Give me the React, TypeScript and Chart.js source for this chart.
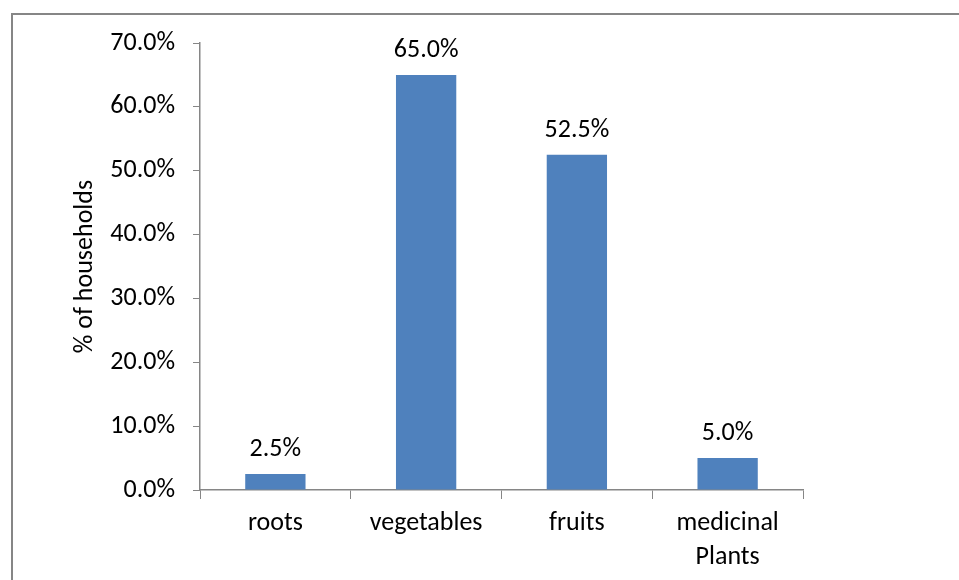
import React, { useEffect, useRef } from "react";
import { Chart, registerables } from "chart.js";

Chart.register(...registerables);

const categories: (string | string[])[] = ["roots", "vegetables", "fruits", ["medicinal", "Plants"]];
const values: number[] = [2.5, 65.0, 52.5, 5.0];
const yTicks: number[] = [0, 10, 20, 30, 40, 50, 60, 70];
const yTitle = "% of households";

const FONT = "Carlito, Lato, sans-serif";
const AXIS = "#868686";
const FS = 26;

const dataLabelPlugin = {
  id: "dataLabels",
  afterDatasetsDraw(chart: any) {
    const ctx = chart.ctx;
    const meta = chart.getDatasetMeta(0);
    ctx.save();
    ctx.font = `${FS}px ${FONT}`;
    ctx.fillStyle = "#000";
    ctx.textAlign = "center";
    ctx.textBaseline = "alphabetic";
    meta.data.forEach((bar: any, i: number) => {
      ctx.fillText(values[i].toFixed(1) + "%", bar.x, bar.y - 18);
    });
    ctx.restore();
  },
};

export default function App() {
  const ref = useRef<HTMLCanvasElement>(null);
  useEffect(() => {
    if (!ref.current) return;
    const chart = new Chart(ref.current, {
      type: "bar",
      data: {
        labels: categories,
        datasets: [
          {
            data: values,
            backgroundColor: "#4F81BD",
            borderWidth: 0,
            categoryPercentage: 1,
            barPercentage: 0.4,
          },
        ],
      },
      options: {
        animation: false,
        responsive: false,
        maintainAspectRatio: false,
        layout: { padding: { left: 0, top: 43, right: 156, bottom: 0 } },
        plugins: { legend: { display: false }, tooltip: { enabled: false } },
        scales: {
          x: {
            grid: { display: true, drawOnChartArea: false, drawTicks: true, tickLength: 9, color: AXIS, offset: true },
            border: { display: true, color: AXIS, width: 1.5 },
            ticks: {
              color: "#000",
              padding: 7,
              maxRotation: 0,
              autoSkip: false,
              font: { family: FONT, size: FS, lineHeight: 1.31 },
            },
            afterFit: (s: any) => {
              s.height = 90;
            },
          },
          y: {
            min: 0,
            max: 70,
            afterBuildTicks: (s: any) => {
              s.ticks = yTicks.map((v) => ({ value: v }));
            },
            grid: { display: true, drawOnChartArea: false, drawTicks: true, tickLength: 7, color: AXIS },
            border: { display: true, color: AXIS, width: 1.5 },
            ticks: {
              color: "#000",
              padding: 18,
              font: { family: FONT, size: FS },
              callback: (v: any) => Number(v).toFixed(1) + "%",
            },
            title: {
              display: true,
              text: yTitle,
              color: "#000",
              font: { family: FONT, size: FS },
              padding: { top: 70, bottom: 0 },
            },
            afterFit: (s: any) => {
              s.width = 200;
            },
          },
        },
      },
      plugins: [dataLabelPlugin],
    });
    return () => chart.destroy();
  }, []);

  return (
    <div style={{ position: "fixed", left: 0, top: 0, width: 959, height: 580, background: "#fff", overflow: "hidden" }}>
      <div
        style={{
          position: "absolute",
          left: 11,
          top: 13,
          width: 1000,
          height: 1000,
          border: "2px solid #868686",
          boxSizing: "border-box",
        }}
      />
      <canvas ref={ref} width={959} height={580} style={{ position: "absolute", left: 0, top: 0 }} />
    </div>
  );
}
